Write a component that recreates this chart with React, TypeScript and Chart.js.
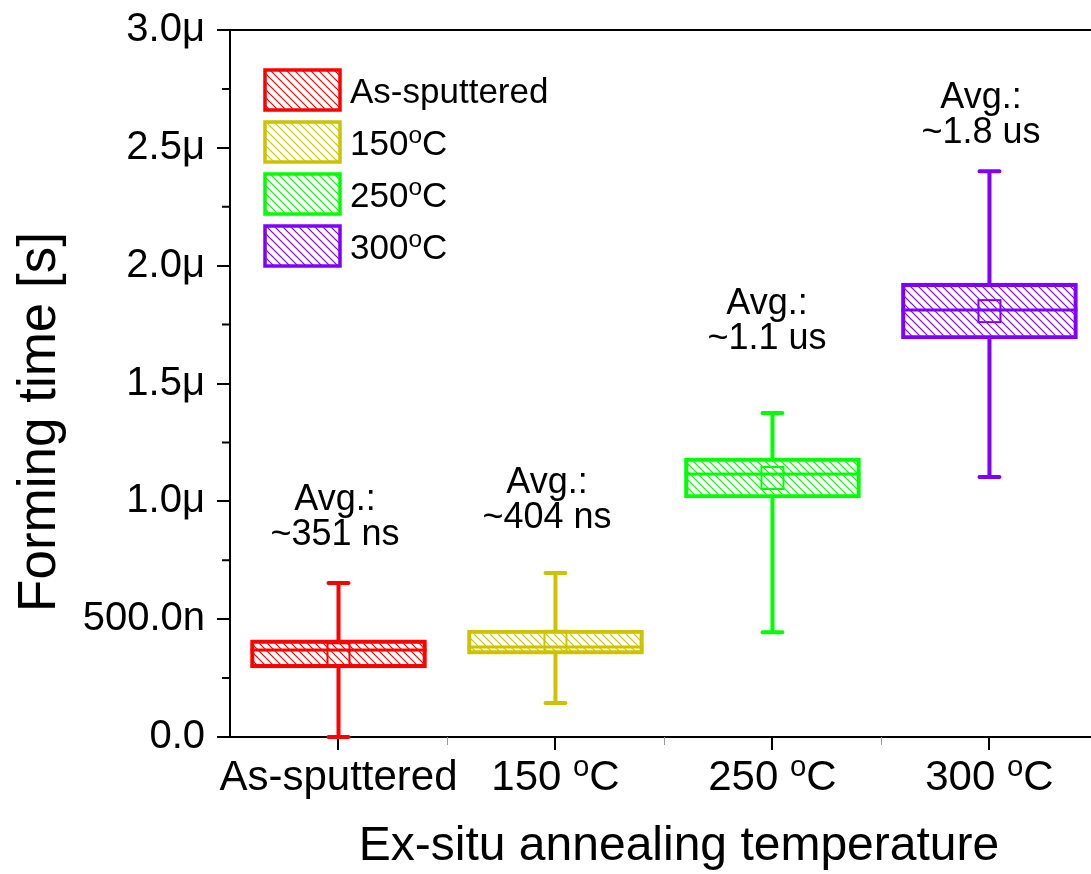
import React, { useEffect, useRef } from 'react';
import { Chart, registerables } from 'chart.js';

Chart.register(...registerables);

const FONT = '"Liberation Sans", Arial, Helvetica, sans-serif';

// Categories (x tick labels, "^o" marks a superscript o)
const categories = ['As-sputtered', '150 ^oC', '250 ^oC', '300 ^oC'];
const legendLabels = ['As-sputtered', '150^oC', '250^oC', '300^oC'];
const colors = ['#FF0000', '#CCC400', '#00FF00', '#8000FF'];

// Box statistics, in microseconds
const whiskerMin = [0.0, 0.144, 0.445, 1.103];
const q1 = [0.293, 0.352, 1.014, 1.689];
const median = [0.369, 0.382, 1.116, 1.812];
const q3 = [0.412, 0.454, 1.184, 1.926];
const whiskerMax = [0.653, 0.696, 1.375, 2.401];
const mean = [0.351, 0.404, 1.099, 1.807];

// Annotations
const avgTitle = ['Avg.:', 'Avg.:', 'Avg.:', 'Avg.:'];
const avgText = ['~351 ns', '~404 ns', '~1.1 us', '~1.8 us'];
const avgLabelX = [-0.016, 0.961, 1.975, 2.961];
const avgLabelY = [0.963, 1.035, 1.795, 2.669];

const yTicks = [0, 0.5, 1, 1.5, 2, 2.5, 3];
const yTitle = 'Forming time [s]';
const xTitle = 'Ex-situ annealing temperature';

function fmtY(v: number): string {
  if (Math.abs(v) < 1e-9) return '0.0';
  if (v < 1) return (v * 1000).toFixed(1) + 'n';
  return v.toFixed(1) + '\u03bc';
}

function makeHatch(ctx: CanvasRenderingContext2D, color: string): CanvasPattern {
  const s = 8;
  const c = document.createElement('canvas');
  c.width = s;
  c.height = s;
  const g = c.getContext('2d') as CanvasRenderingContext2D;
  g.strokeStyle = color;
  g.lineWidth = 1.2;
  for (const o of [-s, 0, s]) {
    g.beginPath();
    g.moveTo(o - 1, -1);
    g.lineTo(o + s + 1, s + 1);
    g.stroke();
  }
  return ctx.createPattern(c, 'repeat') as CanvasPattern;
}

function drawRich(
  ctx: CanvasRenderingContext2D,
  text: string,
  x: number,
  y: number,
  size: number,
  align: 'left' | 'center'
) {
  const parts: { t: string; sup: boolean }[] = [];
  let buf = '';
  let i = 0;
  while (i < text.length) {
    if (text[i] === '^') {
      if (buf) parts.push({ t: buf, sup: false });
      buf = '';
      parts.push({ t: text[i + 1], sup: true });
      i += 2;
    } else {
      buf += text[i];
      i++;
    }
  }
  if (buf) parts.push({ t: buf, sup: false });
  const supSize = size * 0.7;
  let total = 0;
  for (const p of parts) {
    ctx.font = `${p.sup ? supSize : size}px ${FONT}`;
    total += ctx.measureText(p.t).width;
  }
  let cx = align === 'center' ? x - total / 2 : x;
  ctx.textAlign = 'left';
  ctx.textBaseline = 'alphabetic';
  for (const p of parts) {
    ctx.font = `${p.sup ? supSize : size}px ${FONT}`;
    ctx.fillText(p.t, cx, p.sup ? y - size * 0.33 : y);
    cx += ctx.measureText(p.t).width;
  }
}

export default function App() {
  const ref = useRef<HTMLCanvasElement | null>(null);

  useEffect(() => {
    const canvas = ref.current;
    if (!canvas) return;
    const ctx0 = canvas.getContext('2d') as CanvasRenderingContext2D;
    const patterns = colors.map((c) => makeHatch(ctx0, c));

    const boxPlugin = {
      id: 'boxExtras',
      afterDatasetsDraw(chart: any) {
        const ctx: CanvasRenderingContext2D = chart.ctx;
        const xs = chart.scales.x;
        const ys = chart.scales.y;
        const area = chart.chartArea;
        ctx.save();

        // whiskers, medians, means
        categories.forEach((_, i) => {
          const x = xs.getPixelForValue(i);
          const col = colors[i];
          ctx.strokeStyle = col;
          ctx.lineCap = 'butt';
          ctx.lineWidth = 4;
          ctx.beginPath();
          ctx.moveTo(x, ys.getPixelForValue(whiskerMax[i]));
          ctx.lineTo(x, ys.getPixelForValue(q3[i]));
          ctx.moveTo(x, ys.getPixelForValue(q1[i]));
          ctx.lineTo(x, ys.getPixelForValue(whiskerMin[i]));
          ctx.stroke();
          // caps
          ctx.lineWidth = 4;
          ctx.lineCap = 'round';
          ctx.beginPath();
          for (const v of [whiskerMax[i], whiskerMin[i]]) {
            const yy = ys.getPixelForValue(v);
            ctx.moveTo(x - 10, yy);
            ctx.lineTo(x + 10, yy);
          }
          ctx.stroke();
          ctx.lineCap = 'butt';
          // median
          const meta = chart.getDatasetMeta(0);
          const bar = meta.data[i];
          const half = bar.width / 2;
          ctx.lineWidth = 3;
          ctx.beginPath();
          const ym = ys.getPixelForValue(median[i]);
          ctx.moveTo(x - half, ym);
          ctx.lineTo(x + half, ym);
          ctx.stroke();
          // mean square
          const ya = ys.getPixelForValue(mean[i]);
          ctx.lineWidth = 2;
          ctx.strokeRect(x - 11, ya - 11, 22, 22);
        });

        // top frame line
        ctx.strokeStyle = '#000';
        ctx.lineWidth = 2;
        ctx.beginPath();
        ctx.moveTo(area.left - 1, area.top);
        ctx.lineTo(area.right, area.top);
        ctx.stroke();

        // y minor ticks
        ctx.beginPath();
        for (let k = 0; k < yTicks.length - 1; k++) {
          const v = (yTicks[k] + yTicks[k + 1]) / 2;
          const yy = ys.getPixelForValue(v);
          ctx.moveTo(area.left - 8, yy);
          ctx.lineTo(area.left, yy);
        }
        ctx.stroke();
        // x minor ticks
        ctx.strokeStyle = '#999';
        ctx.lineWidth = 1;
        ctx.beginPath();
        for (let k = 0; k < categories.length - 1; k++) {
          const xx = Math.round(xs.getPixelForValue(k + 0.5)) + 0.5;
          ctx.moveTo(xx, area.bottom);
          ctx.lineTo(xx, area.bottom + 8);
        }
        ctx.stroke();

        ctx.fillStyle = '#000';
        // x tick labels
        categories.forEach((lab, i) => {
          drawRich(ctx, lab, xs.getPixelForValue(i), area.bottom + 53, 42, 'center');
        });

        // annotations
        ctx.font = `36px ${FONT}`;
        ctx.textAlign = 'center';
        ctx.textBaseline = 'alphabetic';
        categories.forEach((_, i) => {
          const x = xs.getPixelForValue(avgLabelX[i]);
          const y = ys.getPixelForValue(avgLabelY[i]);
          ctx.fillText(avgTitle[i], x, y);
          ctx.fillText(avgText[i], x, y + 35);
        });

        // legend
        legendLabels.forEach((lab, i) => {
          const lx = area.left + 35;
          const ly = area.top + 40 + i * 52;
          ctx.fillStyle = patterns[i];
          ctx.fillRect(lx, ly, 75, 40);
          ctx.strokeStyle = colors[i];
          ctx.lineWidth = 3.5;
          ctx.strokeRect(lx, ly, 75, 40);
          ctx.fillStyle = '#000';
          drawRich(ctx, lab, area.left + 120, ly + 33, 35, 'left');
        });

        // axis titles
        ctx.fillStyle = '#000';
        ctx.font = `48px ${FONT}`;
        ctx.textAlign = 'center';
        ctx.textBaseline = 'alphabetic';
        ctx.fillText(xTitle, 679, 860);
        ctx.save();
        ctx.translate(55, 422);
        ctx.rotate(-Math.PI / 2);
        ctx.font = `53px ${FONT}`;
        ctx.fillText(yTitle, 0, 0);
        ctx.restore();

        ctx.restore();
      },
    };

    const chart = new Chart(canvas, {
      type: 'bar',
      data: {
        datasets: [
          {
            label: 'Forming time',
            data: categories.map((_, i) => ({ x: i, y: [q1[i], q3[i]] })) as any,
            backgroundColor: patterns as any,
            borderColor: colors,
            borderWidth: 3.5,
            borderSkipped: false,
            barThickness: 176,
          } as any,
        ],
      },
      options: {
        responsive: false,
        animation: false,
        devicePixelRatio: 1,
        layout: { padding: { top: 30, left: 0, right: 0, bottom: 0 } },
        plugins: { legend: { display: false }, tooltip: { enabled: false } },
        scales: {
          x: {
            type: 'linear',
            min: -0.5,
            max: 3.468,
            offset: false,
            afterBuildTicks: (s: any) => {
              s.ticks = categories.map((_, i) => ({ value: i }));
            },
            afterFit: (s: any) => {
              s.height = 137;
              s.paddingLeft = 0;
              s.paddingRight = 0;
            },
            ticks: { display: false },
            grid: {
              offset: false,
              drawOnChartArea: false,
              drawTicks: true,
              tickLength: 13,
              color: '#000',
              lineWidth: 2,
            },
            border: { display: true, color: '#000', width: 2 },
          },
          y: {
            type: 'linear',
            min: 0,
            max: 3,
            afterBuildTicks: (s: any) => {
              s.ticks = yTicks.map((v) => ({ value: v }));
            },
            afterFit: (s: any) => {
              s.width = 230;
              s.paddingTop = 0;
              s.paddingBottom = 0;
            },
            ticks: {
              font: { family: FONT, size: 40, lineHeight: 0.5 },
              color: '#000',
              padding: 12,
              callback: (v: any) => fmtY(Number(v)),
            },
            grid: {
              drawOnChartArea: false,
              drawTicks: true,
              tickLength: 13,
              color: '#000',
              lineWidth: 2,
            },
            border: { display: true, color: '#000', width: 2 },
          },
        },
      } as any,
      plugins: [boxPlugin],
    });

    return () => chart.destroy();
  }, []);

  return (
    <canvas
      ref={ref}
      width={1091}
      height={874}
      style={{ position: 'absolute', left: 0, top: 0, width: 1091, height: 874, display: 'block', background: '#fff' }}
    />
  );
}
